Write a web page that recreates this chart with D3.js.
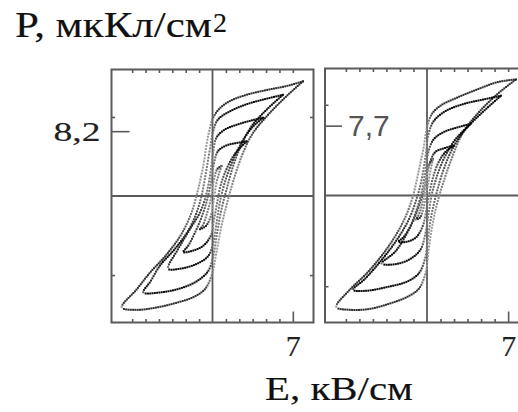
<!DOCTYPE html>
<html>
<head>
<meta charset="utf-8">
<script src="https://cdn.jsdelivr.net/npm/d3@7"></script>
<style>
  html, body { margin: 0; padding: 0; background: #fff; }
  svg { display: block; }
</style>
</head>
<body>
<svg id="chart" width="518" height="412"></svg>
<script>
// Hysteresis loops P(E) for two samples, each loop as [E, P] points
// going along the upper branch from the positive tip and back along the lower branch.
const leftLoop1 = [[7.88,14.5],[6.43,13.9],[4.70,13.4],[2.96,12.8],[1.51,12.0],[0.64,11.1],[0.06,9.9],[-0.38,7.6],[-0.81,3.8],[-1.33,0.4],[-1.83,-2.1],[-2.70,-4.8],[-4.0,-7.4],[-5.45,-9.7],[-6.6,-11.8],[-7.91,-14.1],
  [-6.6,-14.4],[-4.87,-14.1],[-3.13,-13.5],[-1.68,-12.8],[-0.67,-11.8],[-0.09,-10.1],[0.35,-7.1],[0.78,-3.8],[1.36,-0.4],[1.94,2.5],[2.67,5.5],[3.54,8.0],[4.99,10.5],[6.43,12.6],[7.88,14.5]];
const leftLoop2 = [[6.14,12.8],[4.70,12.3],[2.96,11.6],[1.51,10.7],[0.49,9.7],[0.06,8.2],[-0.23,5.9],[-0.58,2.9],[-0.96,0],[-1.39,-2.1],[-2.12,-4.4],[-3.28,-6.7],[-4.58,-8.8],[-5.4,-10.8],[-6.03,-12.2],
  [-4.58,-12.2],[-2.84,-11.7],[-1.39,-10.8],[-0.38,-9.5],[0.06,-7.6],[0.41,-4.6],[0.78,-1.7],[1.22,0.8],[1.80,3.8],[2.52,6.5],[3.39,8.8],[4.70,10.9],[6.14,12.8]];
const leftLoop3 = [[4.41,9.9],[3.25,9.5],[2.09,9.0],[1.07,8.4],[0.35,7.4],[0.06,5.5],[-0.23,2.5],[-0.58,0],[-1.10,-2.1],[-1.97,-4.2],[-2.99,-6.7],[-3.86,-9.2],
  [-2.84,-9.2],[-1.39,-8.6],[-0.38,-7.6],[0.06,-5.9],[0.35,-3.4],[0.64,-0.8],[1.07,1.7],[1.80,4.6],[2.67,7.1],[3.54,8.8],[4.41,9.9]];
const leftLoop4 = [[2.96,6.9],[2.09,6.7],[1.22,6.4],[0.49,5.7],[0.14,4.2],[-0.09,2.1],[-0.38,0],[-0.81,-2.1],[-1.39,-4.2],[-2.12,-6.3],[-2.55,-7.1],
  [-1.68,-6.9],[-0.81,-6.3],[-0.14,-5.0],[0.14,-2.9],[0.41,-0.8],[0.70,1.3],[1.22,3.4],[1.94,5.3],[2.96,6.9]];
const leftLoop5 = [[0.78,3.8],[0.41,3.4],[0.14,2.1],[-0.09,0],[-0.46,-2.1],[-0.87,-3.8],[-1.10,-4.2],
  [-0.58,-3.8],[-0.14,-2.5],[0.12,-0.4],[0.35,1.7],[0.64,3.2],[0.78,3.8]];

const rightLoop1 = [[7.68,12.8],[6.09,12.5],[4.35,11.7],[2.61,10.8],[1.16,9.9],[0.43,9.0],[0,7.5],[-0.29,5.3],[-0.72,2.7],[-1.16,0.2],[-1.74,-2.0],[-2.61,-4.2],[-3.77,-6.4],[-5.22,-8.6],[-6.67,-10.4],[-7.83,-12.3],
  [-6.67,-12.6],[-4.93,-12.5],[-3.19,-11.9],[-1.74,-11.2],[-0.72,-10.3],[-0.14,-8.6],[0.14,-6.0],[0.43,-3.5],[0.87,-0.9],[1.45,1.6],[2.17,4.2],[3.04,6.8],[4.35,9.0],[6.09,11.2],[7.68,12.8]];
const rightLoop2 = [[6.38,11.0],[4.93,10.6],[3.19,10.1],[1.59,9.3],[0.58,8.2],[0.14,6.8],[-0.14,4.2],[-0.49,1.6],[-0.93,-0.5],[-1.59,-2.7],[-2.61,-4.9],[-3.91,-7.1],[-5.36,-9.2],[-6.38,-10.4],
  [-5.22,-10.5],[-3.48,-10.1],[-1.74,-9.5],[-0.72,-8.6],[-0.20,-7.1],[0.06,-4.9],[0.35,-2.4],[0.81,0.2],[1.39,2.7],[2.17,5.1],[3.19,7.1],[4.64,9.0],[6.38,11.0]];
const rightLoop3 = [[3.77,7.9],[2.61,7.5],[1.45,7.0],[0.58,6.2],[0.14,4.9],[-0.14,2.7],[-0.49,0.2],[-1.01,-2.0],[-1.74,-4.2],[-2.75,-6.2],[-3.91,-7.5],
  [-2.90,-7.6],[-1.59,-7.1],[-0.58,-6.0],[-0.14,-4.2],[0.14,-2.0],[0.43,0.2],[0.93,2.4],[1.59,4.4],[2.46,6.2],[3.77,7.9]];
const rightLoop4 = [[2.32,5.5],[1.45,5.2],[0.72,4.8],[0.29,3.8],[0,2.4],[-0.29,0.5],[-0.72,-1.3],[-1.30,-3.1],[-2.03,-4.6],[-2.46,-5.1],
  [-1.74,-5.1],[-0.93,-4.6],[-0.35,-3.3],[-0.06,-1.6],[0.20,0.2],[0.52,2.0],[1.01,3.7],[1.59,4.8],[2.32,5.5]];
const rightLoop5 = [[0.52,4.0],[0.23,3.5],[0,2.2],[-0.20,0.4],[-0.49,-1.3],[-0.81,-2.4],[-1.01,-2.7],
  [-0.58,-2.4],[-0.29,-1.3],[-0.06,0.2],[0.14,1.6],[0.35,3.1],[0.52,4.0]];

// Axis values and labels
const eDomain = [-8.8, 8.8];
const leftPDomain = [-16, 16];
const rightPDomain = [-14, 14];
const eMarkedTick = 7, eMarkedLabel = "7";
const eMinorStep = 7 / 6;
const pMinorTicks = [-10, 10];
const leftPMarked = 8.2, leftPLabel = "8,2";
const rightPMarked = 7.7, rightPLabel = "7,7";
const yTitle = "P, мкКл/см", yTitleSup = "2";
const xTitle = "E, кВ/см";

const svg = d3.select("#chart");
const serif = "'Liberation Serif', 'Times New Roman', serif";
const frameColor = "#5a5a5a";
const textWeight = 0.15;

const eMinorTicks = d3.range(-6, 7).filter(k => k !== 0).map(k => k * eMinorStep);

const panels = [
  { x0: 111.5, x1: 313.5, y0: 69.5, y1: 322.5, pDomain: leftPDomain,
    loops: [leftLoop1, leftLoop2, leftLoop3, leftLoop4, leftLoop5],
    pMarked: leftPMarked, pLabel: leftPLabel, inside: false },
  { x0: 325, x1: 529, y0: 68.5, y1: 322.5, pDomain: rightPDomain,
    loops: [rightLoop1, rightLoop2, rightLoop3, rightLoop4, rightLoop5],
    pMarked: rightPMarked, pLabel: rightPLabel, inside: true }
];

// recorded points: dense and dark where the field sweeps slowly,
// sparse and grey on the fast switching parts
const loopTone = [0.75, 1, 1, 1, 0.8];
const toneDark = "#080808", toneLight = "#9a9a9a";

panels.forEach(p => {
  const x = d3.scaleLinear().domain(eDomain).range([p.x0, p.x1]);
  const y = d3.scaleLinear().domain(p.pDomain).range([p.y1, p.y0]);
  const g = svg.append("g");

  const tickStyle = sel => {
    sel.select(".domain").remove();
    sel.selectAll(".tick line").attr("stroke", frameColor).attr("stroke-width", 1.6);
  };
  // minor ticks on all four sides, pointing inward
  g.append("g").attr("transform", `translate(0,${p.y1})`)
    .call(d3.axisBottom(x).tickValues(eMinorTicks.filter(v => v !== eMarkedTick)).tickSize(-3.5).tickFormat(""))
    .call(tickStyle);
  g.append("g").attr("transform", `translate(0,${p.y0})`)
    .call(d3.axisTop(x).tickValues(eMinorTicks).tickSize(-3.5).tickFormat(""))
    .call(tickStyle);
  g.append("g").attr("transform", `translate(${p.x0},0)`)
    .call(d3.axisLeft(y).tickValues(pMinorTicks).tickSize(-3.5).tickFormat(""))
    .call(tickStyle);
  g.append("g").attr("transform", `translate(${p.x1},0)`)
    .call(d3.axisRight(y).tickValues(pMinorTicks).tickSize(-3.5).tickFormat(""))
    .call(tickStyle);

  // labelled E tick at the bottom
  const eAx = g.append("g").attr("transform", `translate(0,${p.y1})`)
    .call(d3.axisBottom(x).tickValues([eMarkedTick]).tickSize(-11).tickPadding(12).tickFormat(() => eMarkedLabel))
    .call(tickStyle);
  eAx.selectAll("text").attr("font-family", serif).attr("font-size", 30).attr("fill", "#222")
    .attr("stroke", "#222").attr("stroke-width", textWeight);

  // labelled P tick on the left edge
  if (!p.inside) {
    const pAx = g.append("g").attr("transform", `translate(${p.x0},0)`)
      .call(d3.axisLeft(y).tickValues([p.pMarked]).tickSize(-18).tickPadding(11)
        .tickFormat(() => p.pLabel))
      .call(tickStyle);
    pAx.selectAll("text").attr("font-family", serif).attr("font-size", 28)
      .attr("fill", "#222").attr("stroke", "#222").attr("stroke-width", textWeight)
      .attr("textLength", 47).attr("lengthAdjust", "spacingAndGlyphs");
  } else {
    const pAx = g.append("g").attr("transform", `translate(${p.x0},0)`)
      .call(d3.axisRight(y).tickValues([p.pMarked]).tickSize(17).tickPadding(6)
        .tickFormat(() => p.pLabel))
      .call(tickStyle);
    pAx.selectAll("text").attr("font-family", "'Liberation Sans', Arial, sans-serif")
      .attr("font-size", 30).attr("fill", "#555");
  }

  // zero lines
  g.append("line").attr("x1", x(0)).attr("x2", x(0)).attr("y1", p.y0).attr("y2", p.y1)
    .attr("stroke", frameColor).attr("stroke-width", 1.8);
  g.append("line").attr("x1", p.x0).attr("x2", p.x1).attr("y1", y(0)).attr("y2", y(0))
    .attr("stroke", frameColor).attr("stroke-width", 1.8);

  // frame
  g.append("rect").attr("x", p.x0).attr("y", p.y0)
    .attr("width", p.x1 - p.x0).attr("height", p.y1 - p.y0)
    .attr("fill", "none").attr("stroke", frameColor).attr("stroke-width", 2);

  // loops: a guide path through the points, then dots placed along it
  const line = d3.line().x(d => x(d[0])).y(d => y(d[1])).curve(d3.curveCatmullRom.alpha(0.5));
  p.loops.forEach((loop, i) => {
    const guide = g.append("path").attr("d", line(loop)).attr("fill", "none").attr("stroke", "none");
    const node = guide.node();
    const len = node.getTotalLength();
    const dots = [];
    let s = 0;
    while (s <= len) {
      const a = node.getPointAtLength(Math.max(0, s - 1));
      const b = node.getPointAtLength(Math.min(len, s + 1));
      const pt = node.getPointAtLength(s);
      const ang = Math.atan2(Math.abs(b.y - a.y), Math.abs(b.x - a.x)); // 0 flat, PI/2 vertical
      const steep = Math.max(0, Math.min(1, (ang - 0.9) / 0.55));
      dots.push({ x: pt.x, y: pt.y, steep });
      s += 2.3 + steep * 0.9;
    }
    const tone = loopTone[i];
    g.append("g").selectAll("rect").data(dots).join("rect")
      .attr("x", d => d.x - 1).attr("y", d => d.y - 1)
      .attr("width", 2).attr("height", 2)
      .attr("fill", d => d3.interpolateRgb(toneDark, toneLight)(Math.min(1, d.steep * 0.85 + (1 - tone))));
  });
});

// axis titles
svg.append("text").attr("x", 15).attr("y", 37)
  .attr("font-family", serif).attr("font-size", 35).attr("fill", "#111")
  .attr("stroke", "#111").attr("stroke-width", textWeight)
  .attr("textLength", 197).attr("lengthAdjust", "spacingAndGlyphs")
  .text(yTitle);
svg.append("text").attr("x", 213).attr("y", 31.5)
  .attr("font-family", serif).attr("font-size", 28).attr("fill", "#111")
  .attr("stroke", "#111").attr("stroke-width", textWeight)
  .text(yTitleSup);

svg.append("text").attr("x", 265).attr("y", 400)
  .attr("font-family", serif).attr("font-size", 33).attr("fill", "#111")
  .attr("stroke", "#111").attr("stroke-width", textWeight)
  .attr("textLength", 148).attr("lengthAdjust", "spacingAndGlyphs")
  .text(xTitle);
</script>
</body>
</html>
